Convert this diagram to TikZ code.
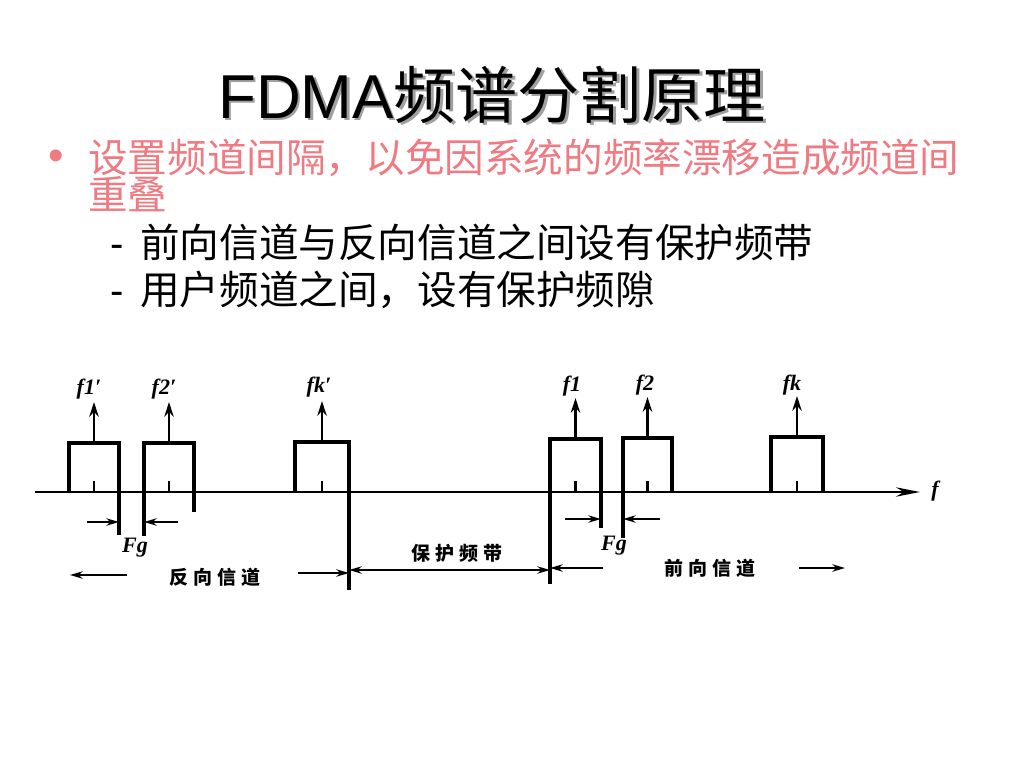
\documentclass[tikz,border=0pt]{standalone}
\usepackage{fontspec}
\setmainfont{Liberation Serif}
\newfontfamily\cjk{Noto Sans CJK SC}
\newfontfamily\cjkwide[LetterSpace=28]{Noto Sans CJK SC}
\newfontfamily\arialf{Liberation Sans}
\usetikzlibrary{arrows.meta}
\definecolor{pinktext}{RGB}{240,122,130}
\definecolor{shadowgray}{RGB}{160,160,160}
\newcommand{\titletext}{\arialf FDMA\cjk 频谱分割原理}
\begin{document}
\begin{tikzpicture}[x=0.75pt,y=-0.75pt,
  boxline/.style={line width=2.3pt, line join=miter},
  tickline/.style={line width=1.6pt},
  uparrow/.style={line width=1.7pt, -{Stealth[length=11pt,width=7pt]}},
  dimarrow/.style={line width=1.4pt, -{Stealth[length=9.5pt,width=5.5pt]}},
  flabel/.style={inner sep=0pt, font=\fontsize{16.5}{16.5}\selectfont\bfseries\itshape},
  cnlabel/.style={inner sep=0pt, font=\fontsize{14.25}{15}\selectfont\cjkwide\bfseries},
  bodytext/.style={inner sep=0pt, anchor=base west, text height=0.78em, text depth=0.04em,
                   font=\fontsize{29.7}{30}\selectfont\cjk},
  dashtext/.style={inner sep=0pt, anchor=base west, font=\fontsize{30}{30}\selectfont\arialf}
]
\useasboundingbox (0,0) rectangle (1024,768);
\fill[white] (0,0) rectangle (1024,768);

% title with shadow (one node)
\node[inner sep=0pt, anchor=base west,
      font=\fontsize{46.5}{46.5}\selectfont] (title) at (218,118)
      {\makebox[0pt][l]{\kern1.8pt\raisebox{-1.8pt}{\textcolor{shadowgray}{\titletext}}}\titletext};

% bullet text
\node[inner sep=0pt, anchor=base, text=pinktext,
      font=\fontsize{33}{33}\selectfont\arialf] (bullet) at (56,170) {•};
\node[bodytext, text=pinktext] (l1) at (88,172) {设置频道间隔，以免因系统的频率漂移造成频道间};
\node[bodytext, text=pinktext] (l2) at (88,209) {重叠};
\node[dashtext] (d3) at (110,257) {-};
\node[bodytext] (l3) at (140,257) {前向信道与反向信道之间设有保护频带};
\node[dashtext] (d4) at (110,304) {-};
\node[bodytext] (l4) at (140,304) {用户频道之间，设有保护频隙};

% axis
\coordinate (axstart) at (35,492);
\coordinate (axend) at (920,492);
\draw[line width=2pt, -{Stealth[length=18pt,width=7pt]}] (axstart) -- (axend);
\node[flabel] (flab) at (935,491) {f};

% channel boxes
\foreach \n/\l/\r/\t in {b1/69/119/443, b2/144/194/443, b3/295/349/442,
                          b4/550/601/439, b5/623/672/438, b6/771/823/437} {
  \coordinate (\n-bl) at (\l,492);
  \coordinate (\n-tl) at (\l,\t);
  \coordinate (\n-tr) at (\r,\t);
  \coordinate (\n-br) at (\r,492);
  \coordinate (\n-c) at ({(\l+\r)/2},492);
  \coordinate (\n-tc) at ({(\l+\r)/2},\t);
  \coordinate (\n-tk) at ({(\l+\r)/2},481);
  \coordinate (\n-ar) at ({(\l+\r)/2},\t-41);
  \draw[boxline] (\n-bl) -- (\n-tl) -- (\n-tr) -- (\n-br);
  \draw[tickline] (\n-c) -- (\n-tk);
  \draw[uparrow] (\n-tc) -- (\n-ar);
}

% frequency labels
\node[flabel] (lf1p) at (89,389) {f1′};
\node[flabel] (lf2p) at (164,389) {f2′};
\node[flabel] (lfkp) at (319,387) {fk′};
\node[flabel] (lf1) at (572,386) {f1};
\node[flabel] (lf2) at (645,385) {f2};
\node[flabel] (lfk) at (792,385) {fk};

% extension lines below the axis
\coordinate (e1) at (119,535);
\coordinate (e2) at (144,536);
\coordinate (e3) at (194,512);
\coordinate (e4) at (349,590);
\coordinate (e5) at (550,584);
\coordinate (e6) at (601,528);
\coordinate (e7) at (623,538);
\draw[boxline] (b1-br) -- (e1);
\draw[boxline] (b2-bl) -- (e2);
\draw[boxline] (b2-br) -- (e3);
\draw[boxline] (b3-br) -- (e4);
\draw[boxline] (b4-bl) -- (e5);
\draw[boxline] (b4-br) -- (e6);
\draw[boxline] (b5-bl) -- (e7);

% Fg guard gaps
\coordinate (g1a) at (87,522);  \coordinate (g1b) at (119,522);
\coordinate (g2a) at (178,522); \coordinate (g2b) at (144,522);
\coordinate (g3a) at (565,519); \coordinate (g3b) at (601,519);
\coordinate (g4a) at (660,519); \coordinate (g4b) at (623,519);
\draw[dimarrow] (g1a) -- (g1b);
\draw[dimarrow] (g2a) -- (g2b);
\draw[dimarrow] (g3a) -- (g3b);
\draw[dimarrow] (g4a) -- (g4b);
\node[flabel] (fg1) at (135,548) {Fg};
\node[flabel] (fg2) at (614,546) {Fg};

% bottom dimension row
\coordinate (r1a) at (127,575); \coordinate (r1b) at (70,575);
\coordinate (r2a) at (298,573); \coordinate (r2b) at (349,573);
\coordinate (p1) at (349,570);  \coordinate (p2) at (550,570);
\coordinate (r3a) at (603,568); \coordinate (r3b) at (550,568);
\coordinate (r4a) at (799,568); \coordinate (r4b) at (845,568);
\draw[dimarrow] (r1a) -- (r1b);
\draw[dimarrow] (r2a) -- (r2b);
\draw[dimarrow, {Stealth[length=9.5pt,width=5.5pt]}-{Stealth[length=9.5pt,width=5.5pt]}] (p1) -- (p2);
\draw[dimarrow] (r3a) -- (r3b);
\draw[dimarrow] (r4a) -- (r4b);
\node[cnlabel] (rev) at (215,577) {反向信道};
\node[cnlabel] (guard) at (457,553) {保护频带};
\node[cnlabel] (fwd) at (710,568) {前向信道};
\end{tikzpicture}
\end{document}
